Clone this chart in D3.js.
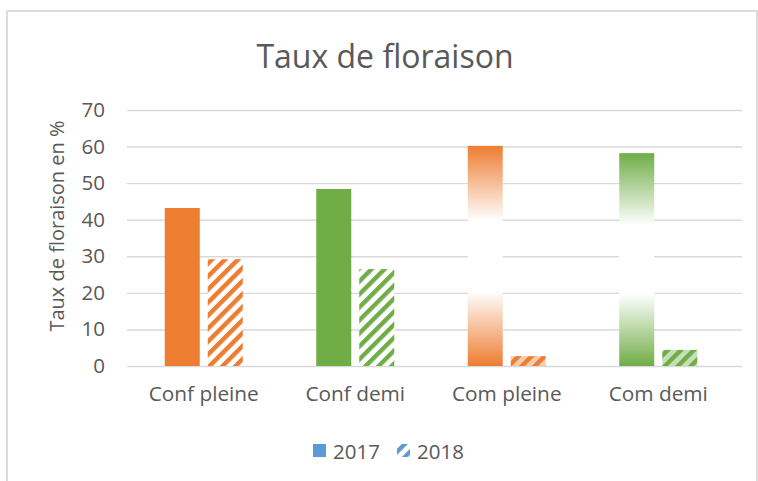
<!DOCTYPE html>
<html><head><meta charset="utf-8">
<script src="https://cdn.jsdelivr.net/npm/d3@7"></script>
<style>html,body{margin:0;padding:0;background:#fff;}svg{display:block;}</style>
</head><body>
<script>
const categories = ["Conf pleine", "Conf demi", "Com pleine", "Com demi"];
const seriesNames = ["2017", "2018"];
const values2017 = [43.2, 48.4, 60.2, 58.2];
const values2018 = [29.2, 26.5, 2.7, 4.4];
const yTicks = [0, 10, 20, 30, 40, 50, 60, 70];

const W = 758, H = 481;
const FONT = "'Open Sans', 'Liberation Sans', sans-serif";
const svg = d3.select("body").append("svg").attr("width", W).attr("height", H);
const defs = svg.append("defs");

const ORANGE = "#ED7D31", GREEN = "#70AD47", BLUE = "#5B9BD5";
const LORANGE = "#F8CBAD", LGREEN = "#C5E0B4";

function stripe(id, color, bg) {
  const p = defs.append("pattern").attr("id", id).attr("patternUnits", "userSpaceOnUse")
    .attr("width", 9.2).attr("height", 9.2).attr("patternTransform", "rotate(45)");
  p.append("rect").attr("width", 9.2).attr("height", 9.2).attr("fill", bg);
  p.append("rect").attr("width", 4.4).attr("height", 9.2).attr("fill", color);
}
stripe("hO", ORANGE, "#fff");
stripe("hG", GREEN, "#fff");
stripe("hOL", ORANGE, LORANGE);
stripe("hGL", GREEN, LGREEN);
stripe("hB", BLUE, "#fff");

function grad(id, color) {
  const g = defs.append("linearGradient").attr("id", id).attr("x1", 0).attr("y1", 0).attr("x2", 0).attr("y2", 1);
  [[0, color], [0.34, "#fff"], [0.66, "#fff"], [1, color]].forEach(s =>
    g.append("stop").attr("offset", s[0]).attr("stop-color", s[1]));
}
grad("gO", ORANGE);
grad("gG", GREEN);

const fills = {
  "2017": ["#ED7D31", "#70AD47", "url(#gO)", "url(#gG)"],
  "2018": ["url(#hO)", "url(#hG)", "url(#hOL)", "url(#hGL)"]
};

// border
svg.append("rect").attr("x", 7).attr("y", 11).attr("width", 750).attr("height", 480)
  .attr("fill", "none").attr("stroke", "#D9D9D9").attr("stroke-width", 1.8);

const plot = {l: 127, r: 742, t: 110, b: 366};
const x0 = d3.scaleBand().domain(categories).range([128, 734]).padding(0);
const grp = 78;
const x1 = d3.scaleBand().domain(seriesNames)
  .range([(x0.bandwidth() - grp) / 2, (x0.bandwidth() + grp) / 2]).paddingInner(0.186);
const y = d3.scaleLinear().domain([0, 70]).range([plot.b, plot.t]);

// gridlines
const yAxis = d3.axisLeft(y).tickValues(yTicks).tickSize(-(plot.r - plot.l)).tickPadding(22);
const ga = svg.append("g").attr("transform", `translate(${plot.l},0)`).call(yAxis);
ga.select(".domain").remove();
ga.selectAll(".tick line").attr("stroke", "#D9D9D9").attr("stroke-width", 1.4);
ga.selectAll(".tick text").attr("fill", "#595959").attr("font-family", FONT).attr("font-size", 20.5);

// bars
const data = [];
categories.forEach((c, i) => {
  data.push({c, s: "2017", v: values2017[i], i});
  data.push({c, s: "2018", v: values2018[i], i});
});
svg.append("g").selectAll("rect").data(data).join("rect")
  .attr("x", d => x0(d.c) + x1(d.s))
  .attr("width", x1.bandwidth())
  .attr("y", d => y(d.v))
  .attr("height", d => y(0) - y(d.v))
  .attr("fill", d => fills[d.s][d.i]);

// x axis labels
const xAxis = d3.axisBottom(x0).tickSize(0).tickPadding(20);
const gx = svg.append("g").attr("transform", `translate(0,${plot.b})`).call(xAxis);
gx.select(".domain").remove();
gx.selectAll(".tick text").attr("fill", "#595959").attr("font-family", FONT).attr("font-size", 20.8);

// title
svg.append("text").attr("x", 385).attr("y", 68).attr("text-anchor", "middle")
  .attr("fill", "#595959").attr("font-family", FONT).attr("font-size", 32).text("Taux de floraison");

// y title
svg.append("text").attr("transform", "translate(64,226) rotate(-90)").attr("text-anchor", "middle")
  .attr("fill", "#595959").attr("font-family", FONT).attr("font-size", 20).text("Taux de floraison en %");

// legend
const leg = svg.append("g");
const legItems = [{s: "2017", fill: BLUE, x: 313}, {s: "2018", fill: "url(#hB)", x: 397}];
legItems.forEach(it => {
  leg.append("rect").attr("x", it.x).attr("y", 444).attr("width", 13).attr("height", 13).attr("fill", it.fill);
  leg.append("text").attr("x", it.x + 20).attr("y", 459).attr("fill", "#595959")
    .attr("font-family", FONT).attr("font-size", 20.5).text(it.s);
});
</script>
</body></html>
